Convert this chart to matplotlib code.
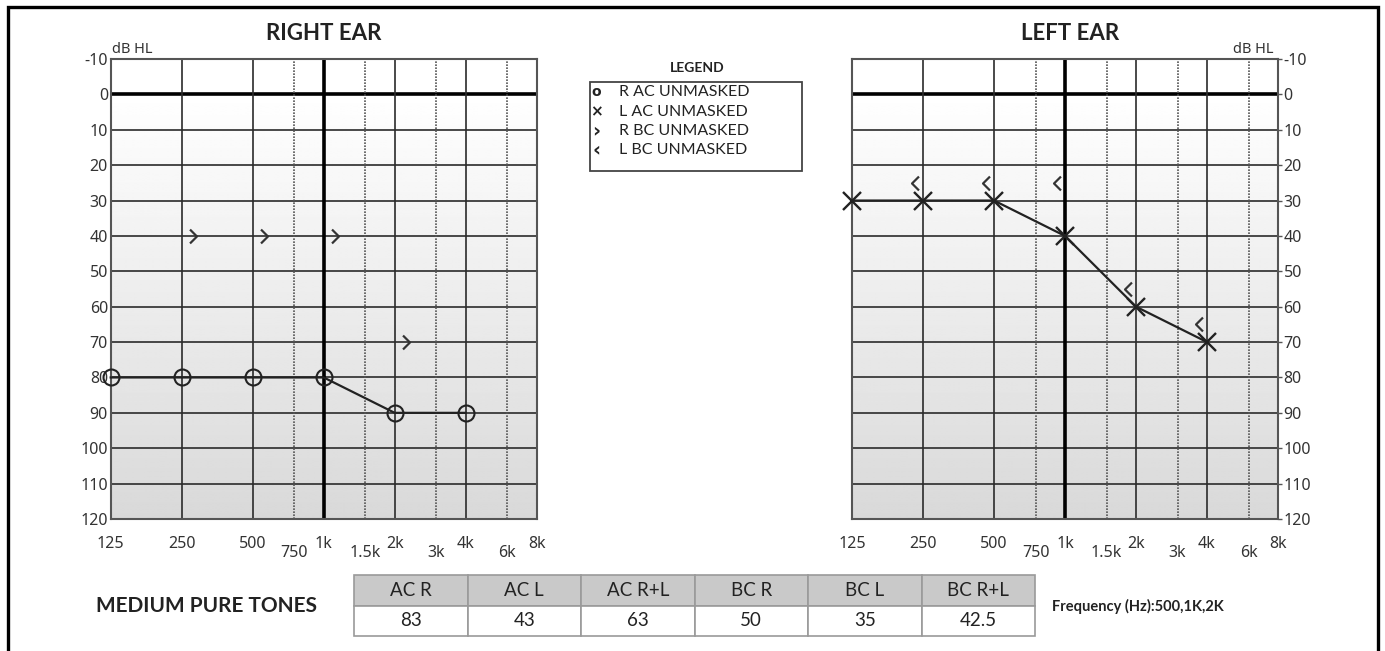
import numpy as np
import matplotlib
matplotlib.use("Agg")
import matplotlib.pyplot as plt
from matplotlib.path import Path
from matplotlib.patches import Rectangle
import matplotlib.transforms as mtransforms

# ---------------- data ----------------
freq_main = [125, 250, 500, 1000, 2000, 4000, 8000]
freq_main_labels = ["125", "250", "500", "1k", "2k", "4k", "8k"]
freq_half = [750, 1500, 3000, 6000]
freq_half_labels = ["750", "1.5k", "3k", "6k"]
db_ticks = [-10, 0, 10, 20, 30, 40, 50, 60, 70, 80, 90, 100, 110, 120]

r_ac_freq = [125, 250, 500, 1000, 2000, 4000]
r_ac_db = [80, 80, 80, 80, 90, 90]
r_bc_freq = [250, 500, 1000, 2000]
r_bc_db = [40, 40, 40, 70]

l_ac_freq = [125, 250, 500, 1000, 2000, 4000]
l_ac_db = [30, 30, 30, 40, 60, 70]
l_bc_freq = [250, 500, 1000, 2000, 4000]
l_bc_db = [25, 25, 25, 55, 65]

legend_symbols = ["o", "×", "›", "‹"]
legend_labels = ["R AC UNMASKED", "L AC UNMASKED", "R BC UNMASKED", "L BC UNMASKED"]

table_headers = ["AC R", "AC L", "AC R+L", "BC R", "BC L", "BC R+L"]
table_values = ["83", "43", "63", "50", "35", "42.5"]

# ---------------- figure ----------------
W, H = 1385, 651
fig = plt.figure(figsize=(W / 100, H / 100), dpi=100)
fig.patch.set_facecolor("white")

TICK_FONT = "Noto Sans"
TITLE_FONT = "Lato"
TICK_SIZE = 11.5


def px_rect(x0, y0, x1, y1):
    return [x0 / W, 1 - y1 / H, (x1 - x0) / W, (y1 - y0) / H]


chev_r = Path([(-0.5, 1.0), (0.5, 0.0), (-0.5, -1.0)],
              [Path.MOVETO, Path.LINETO, Path.LINETO])
chev_l = Path([(0.5, 1.0), (-0.5, 0.0), (0.5, -1.0)],
              [Path.MOVETO, Path.LINETO, Path.LINETO])


def setup_audiogram(ax, side):
    ax.set_xscale("log", base=2)
    ax.set_xlim(125, 8000)
    ax.set_ylim(120, -10)
    # gradient background
    grad = np.linspace(0.85, 1.0, 256).reshape(-1, 1)
    ax.imshow(np.concatenate([grad, np.ones((20, 1))]), cmap="gray", vmin=0, vmax=1,
              extent=[0, 1, 0, 1], transform=ax.transAxes, aspect="auto",
              origin="lower", zorder=0, interpolation="bilinear")
    # horizontal grid
    for d in db_ticks[1:-1]:
        if d == 0:
            ax.axhline(d, color="black", lw=2.6, zorder=1)
        else:
            ax.axhline(d, color="#2b2b2b", lw=1.2, zorder=1)
    # vertical grid
    for f in freq_main[1:-1]:
        if f == 1000:
            ax.axvline(f, color="black", lw=2.6, zorder=1)
        else:
            ax.axvline(f, color="#2b2b2b", lw=1.2, zorder=1)
    for f in freq_half:
        ax.axvline(f, color="#555555", lw=1.2, ls=(0, (1, 0.8)), zorder=1)
    for s in ax.spines.values():
        s.set_color("#555555")
        s.set_linewidth(1.5)
    # x ticks
    ax.set_xticks(freq_main)
    ax.set_xticklabels(freq_main_labels)
    ax.set_xticks(freq_half, minor=True)
    ax.set_xticklabels(freq_half_labels, minor=True)
    ax.tick_params(axis="x", which="major", length=0, pad=12, labelsize=TICK_SIZE, labelcolor="#333333")
    ax.tick_params(axis="x", which="minor", length=0, pad=19, labelsize=TICK_SIZE, labelcolor="#333333")
    for lab in ax.get_xticklabels(which="both"):
        lab.set_fontfamily(TICK_FONT)
    # y ticks
    ax.set_yticks(db_ticks)
    ax.set_yticklabels([str(d) for d in db_ticks])
    if side == "right":
        ax.yaxis.tick_left()
        ax.tick_params(axis="y", length=0, pad=2, labelsize=TICK_SIZE, labelcolor="#333333")
    else:
        ax.yaxis.tick_right()
        ax.tick_params(axis="y", length=3, width=1, color="#555555", pad=1,
                       labelsize=TICK_SIZE, labelcolor="#333333")
    for lab in ax.get_yticklabels():
        lab.set_fontfamily(TICK_FONT)
    ax.yaxis.set_minor_locator(matplotlib.ticker.NullLocator())


# ---------------- right ear ----------------
axR = fig.add_axes(px_rect(110.7, 59, 536.7, 519))
setup_audiogram(axR, "right")
axR.plot(r_ac_freq, r_ac_db, color="#222222", lw=1.6, marker="o", ms=11.5,
         mfc="none", mec="#222222", mew=1.5, zorder=5, clip_on=False)
offR = mtransforms.offset_copy(axR.transData, fig=fig, x=8, y=0, units="points")
axR.plot(r_bc_freq, r_bc_db, ls="none", marker=chev_r, ms=10, mfc="none",
         mec="#333333", mew=1.6, transform=offR, zorder=5, clip_on=False)
axR.text(0.004, 1.004, "dB HL", transform=axR.transAxes, ha="left", va="bottom",
         fontsize=10.5, family=TICK_FONT, color="#333333")

# ---------------- left ear ----------------
axL = fig.add_axes(px_rect(852, 59, 1278, 519))
setup_audiogram(axL, "left")
axL.plot(l_ac_freq, l_ac_db, color="#222222", lw=1.6, marker="x", ms=12.5,
         mec="#222222", mew=1.7, zorder=5, clip_on=False)
offL = mtransforms.offset_copy(axL.transData, fig=fig, x=-5.5, y=0, units="points")
axL.plot(l_bc_freq, l_bc_db, ls="none", marker=chev_l, ms=10, mfc="none",
         mec="#333333", mew=1.6, transform=offL, zorder=5, clip_on=False)
axL.text(0.99, 1.004, "dB HL", transform=axL.transAxes, ha="right", va="bottom",
         fontsize=10.5, family=TICK_FONT, color="#333333")

# ---------------- titles ----------------
fig.text(324 / W, 1 - 33 / H, "RIGHT EAR", ha="center", va="center", fontsize=16,
         fontweight="bold", family=TITLE_FONT, color="#222222")
fig.text(1070 / W, 1 - 33 / H, "LEFT EAR", ha="center", va="center", fontsize=16,
         fontweight="bold", family=TITLE_FONT, color="#222222")

# ---------------- legend ----------------
fig.text(697 / W, 1 - 68 / H, "LEGEND", ha="center", va="center", fontsize=10,
         fontweight="bold", family=TITLE_FONT, color="#222222")
axLeg = fig.add_axes(px_rect(590, 82, 802, 171))
axLeg.set_xlim(0, 212)
axLeg.set_ylim(89, 0)
axLeg.axis("off")
axLeg.add_patch(Rectangle((0, 0), 212, 89, fill=False, ec="#444444", lw=1.3, clip_on=False))
ys = [10, 30, 49, 68]
sym_sizes = [10, 11, 14, 14]
for y, sym, lab, ss in zip(ys, legend_symbols, legend_labels, sym_sizes):
    axLeg.text(6, y, sym, ha="center", va="center", fontsize=ss, fontweight="bold",
               family="DejaVu Sans", color="#222222")
    axLeg.text(29, y, lab, ha="left", va="center", fontsize=11.5,
               family=TITLE_FONT, color="#222222")

# ---------------- medium pure tones ----------------
fig.text(207 / W, 1 - 606 / H, "MEDIUM PURE TONES", ha="center", va="center",
         fontsize=15, fontweight="bold", family=TITLE_FONT, color="#222222")
fig.text(1052 / W, 1 - 606 / H, "Frequency (Hz):500,1K,2K", ha="left", va="center",
         fontsize=10.5, fontweight="bold", family=TITLE_FONT, color="#222222")

axT = fig.add_axes(px_rect(354, 575, 1035, 636))
axT.axis("off")
tbl = axT.table(cellText=[table_headers, table_values], cellLoc="center",
                bbox=[0, 0, 1, 1])
tbl.auto_set_font_size(False)
for (r, c), cell in tbl.get_celld().items():
    cell.set_edgecolor("#9a9a9a")
    cell.set_linewidth(1.2)
    cell.get_text().set_fontsize(13.5)
    cell.get_text().set_family(TITLE_FONT)
    cell.get_text().set_color("#222222")
    if r == 0:
        cell.set_facecolor("#c9c9c9")
    else:
        cell.set_facecolor("white")

# ---------------- outer frame ----------------
frame = fig.add_axes([0, 0, 1, 1], zorder=-1)
frame.set_xlim(0, W)
frame.set_ylim(H, 0)
frame.axis("off")
frame.plot([8, 8, 1378, 1378], [H + 10, 7, 7, H + 10], color="black", lw=2.4,
           solid_joinstyle="miter")

fig.savefig("out.png", dpi=100, facecolor="white")
